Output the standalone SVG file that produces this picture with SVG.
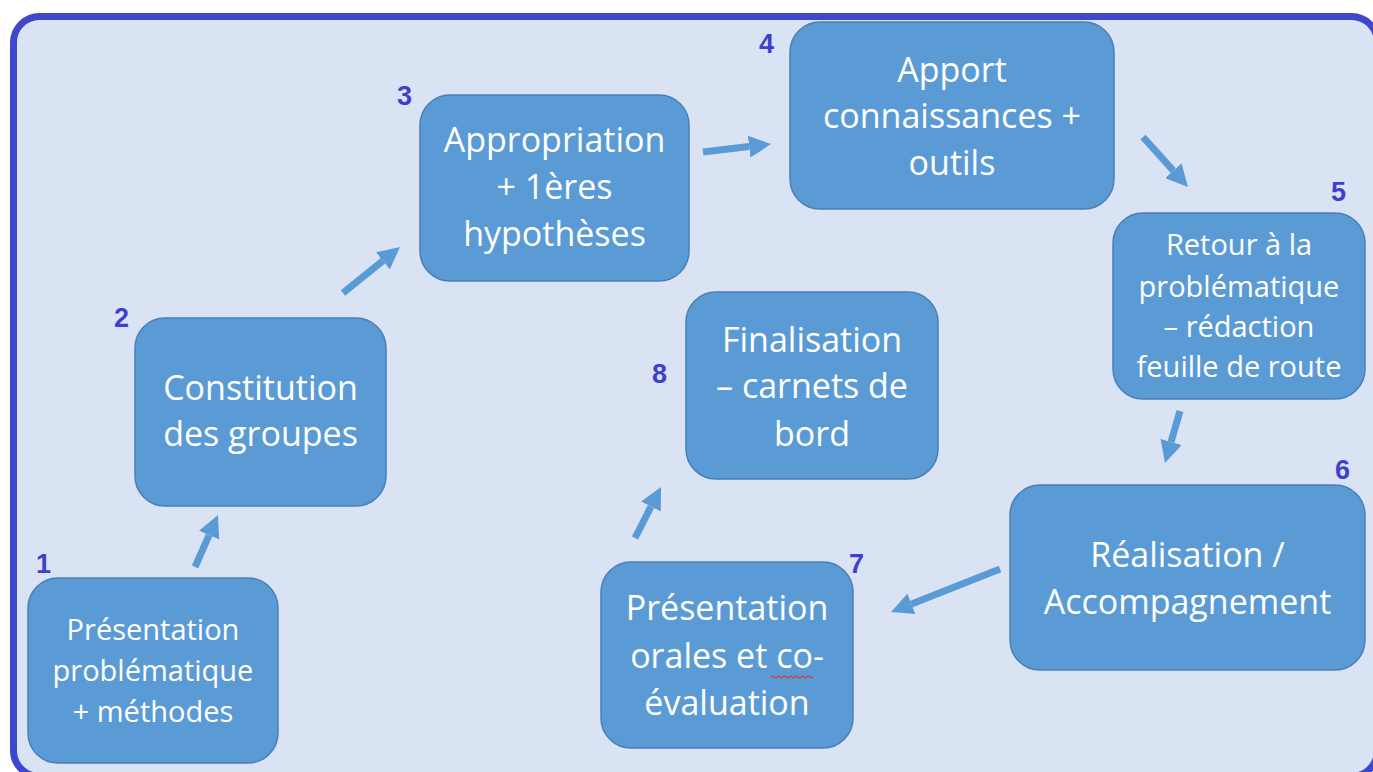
<svg xmlns="http://www.w3.org/2000/svg" width="1373" height="772" viewBox="0 0 1373 772">
<defs>
<style>
.box{fill:#5b9bd5;stroke:#4a7fb5;stroke-width:1.5}
.t{fill:#ffffff;font-family:"Open Sans","Noto Sans",sans-serif;text-anchor:middle}
.big{font-size:34px}
.small{font-size:29px}
.num{fill:#3f3fcc;font-family:"Liberation Sans",Arial,sans-serif;font-weight:bold;font-size:27px}
.arr{stroke:#5b9bd5;stroke-width:7;fill:none;marker-end:url(#head)}
</style>
<marker id="head" markerUnits="userSpaceOnUse" markerWidth="22" markerHeight="22" viewBox="0 0 22 22" refX="0" refY="11" orient="auto">
<path d="M0,0 L22,11 L0,22 z" fill="#5b9bd5"/>
</marker>
</defs>
<rect x="0" y="0" width="1373" height="772" fill="#ffffff"/>
<rect id="frame" x="13.5" y="16.5" width="1364" height="760" rx="26" fill="#dae3f3" stroke="#3f48cc" stroke-width="7"/>

<g id="connectors">
<line class="arr" x1="195" y1="567" x2="209.1" y2="535.1"/>
<line class="arr" x1="343" y1="293" x2="382.9" y2="260.8"/>
<line class="arr" x1="703" y1="152" x2="749.2" y2="146.6"/>
<line class="arr" x1="1143" y1="137" x2="1173.3" y2="170.7"/>
<line class="arr" x1="1180" y1="411" x2="1171.1" y2="441.9"/>
<line class="arr" x1="1000" y1="569" x2="911.5" y2="603.9"/>
<line class="arr" x1="635" y1="538" x2="651" y2="506.6"/>
</g>

<g id="node1">
<rect class="box" x="28" y="578" width="250" height="185" rx="30"/>
<text class="t small" x="153" y="640">Présentation</text>
<text class="t small" x="153" y="681">problématique</text>
<text class="t small" x="153" y="722">+ méthodes</text>
<text class="num" x="36" y="573">1</text>
</g>

<g id="node2">
<rect class="box" x="135" y="318" width="251" height="188" rx="30"/>
<text class="t big" x="260.5" y="400">Constitution</text>
<text class="t big" x="260.5" y="446">des groupes</text>
<text class="num" x="114" y="327">2</text>
</g>

<g id="node3">
<rect class="box" x="420" y="95" width="269" height="186" rx="30"/>
<text class="t big" x="554.5" y="152">Appropriation</text>
<text class="t big" x="554.5" y="199">+ 1ères</text>
<text class="t big" x="554.5" y="246">hypothèses</text>
<text class="num" x="397" y="105">3</text>
</g>

<g id="node4">
<rect class="box" x="790" y="22" width="324" height="187" rx="30"/>
<text class="t big" x="952" y="82">Apport</text>
<text class="t big" x="952" y="128">connaissances +</text>
<text class="t big" x="952" y="175">outils</text>
<text class="num" x="759" y="53">4</text>
</g>

<g id="node5">
<rect class="box" x="1113" y="213" width="252" height="186" rx="30"/>
<text class="t small" x="1239" y="255">Retour à la</text>
<text class="t small" x="1239" y="297">problématique</text>
<text class="t small" x="1239" y="337">– rédaction</text>
<text class="t small" x="1239" y="377">feuille de route</text>
<text class="num" x="1331" y="201">5</text>
</g>

<g id="node6">
<rect class="box" x="1010" y="485" width="355" height="185" rx="30"/>
<text class="t big" x="1187.5" y="567">Réalisation /</text>
<text class="t big" x="1187.5" y="614">Accompagnement</text>
<text class="num" x="1335" y="479">6</text>
</g>

<g id="node7">
<rect class="box" x="601" y="562" width="252" height="186" rx="30"/>
<text class="t big" x="727" y="620">Présentation</text>
<text class="t big" x="727" y="668">orales et co-</text>
<text class="t big" x="727" y="715">évaluation</text>
<path d="M771,677 q1.5,-2 3,0 t3,0 t3,0 t3,0 t3,0 t3,0 t3,0 t3,0 t3,0 t3,0 t3,0 t3,0 t3,0 t3,0" fill="none" stroke="#e03030" stroke-width="1.2"/>
<text class="num" x="849" y="573">7</text>
</g>

<g id="node8">
<rect class="box" x="686" y="292" width="252" height="187" rx="30"/>
<text class="t big" x="812" y="352">Finalisation</text>
<text class="t big" x="812" y="398">– carnets de</text>
<text class="t big" x="812" y="446">bord</text>
<text class="num" x="652" y="383">8</text>
</g>
</svg>
